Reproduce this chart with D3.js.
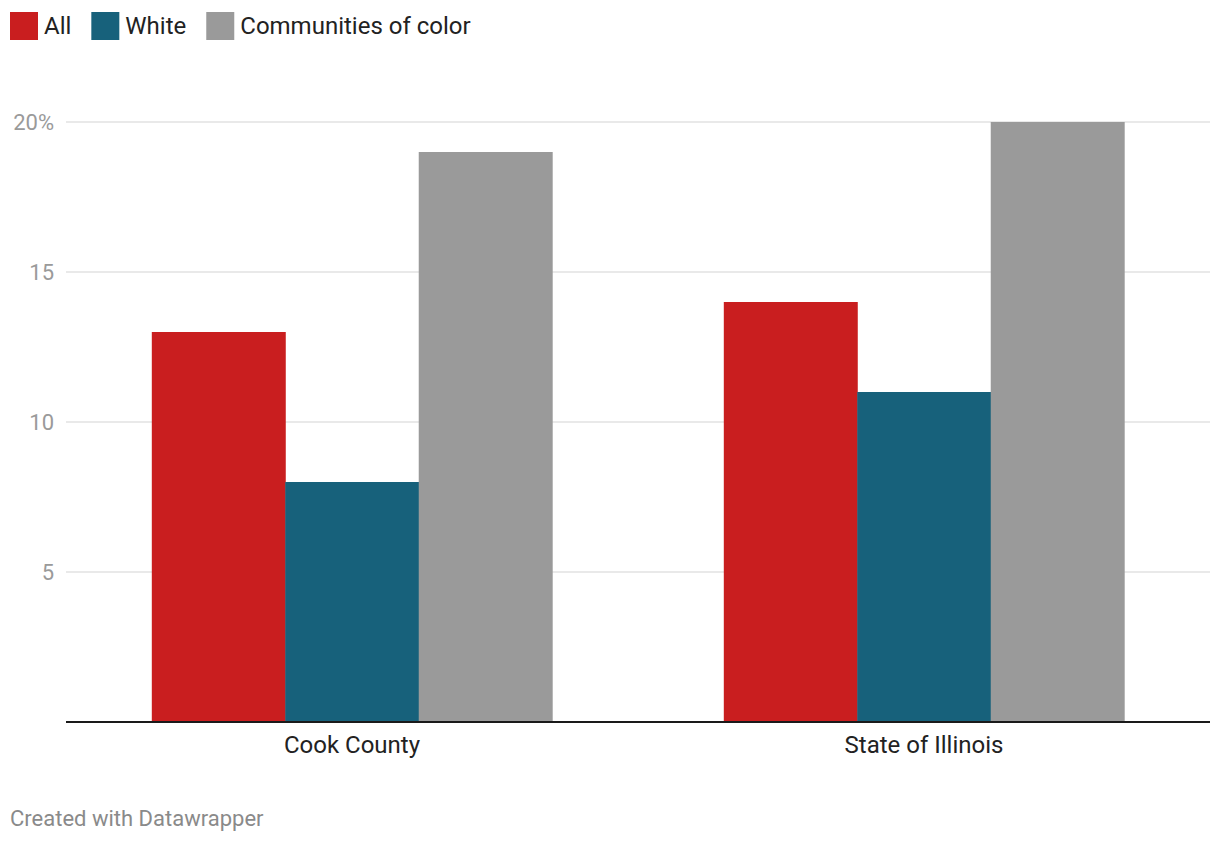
<!DOCTYPE html>
<html>
<head>
<meta charset="utf-8">
<script src="https://cdn.jsdelivr.net/npm/d3@7"></script>
<style>
  html, body { margin: 0; padding: 0; background: #fff; }
  svg { display: block; font-family: Roboto, "Noto Sans", sans-serif; }
</style>
</head>
<body>
<svg id="chart" width="1220" height="844"></svg>
<script>
const categories = ["Cook County", "State of Illinois"];
const seriesNames = ["All", "White", "Communities of color"];
const seriesColors = ["#c91e1f", "#17617b", "#9a9a9a"];
const allValues = [13, 14];
const whiteValues = [8, 11];
const cocValues = [19, 20];
const tickValues = [5, 10, 15, 20];
const seriesValues = [allValues, whiteValues, cocValues];

const svg = d3.select("#chart");
const margin = { left: 66, right: 10, top: 122, bottom: 722 };

const x0 = d3.scaleBand().domain(categories).range([margin.left, 1220 - margin.right])
  .paddingInner(0.3).paddingOuter(0.15);
const x1 = d3.scaleBand().domain(seriesNames).range([0, x0.bandwidth()]).padding(0);
const y = d3.scaleLinear().domain([0, 20]).range([margin.bottom, margin.top]);

// legend
let lx = 10;
const legend = svg.append("g");
seriesNames.forEach((name, i) => {
  legend.append("rect").attr("x", lx).attr("y", 12).attr("width", 28).attr("height", 28)
    .attr("fill", seriesColors[i]);
  const t = legend.append("text").attr("x", lx + 34).attr("y", 34).attr("font-size", 24)
    .attr("fill", "#222").text(name);
  lx += 34 + t.node().getComputedTextLength() + 20;
});

// grid + y labels
const yAxis = d3.axisLeft(y).tickValues(tickValues).tickSize(0)
  .tickFormat(d => d === 20 ? "20%" : d);
const gy = svg.append("g").attr("transform", `translate(${margin.left - 12},0)`).call(yAxis);
gy.select(".domain").remove();
gy.selectAll("text").attr("font-size", 22).attr("fill", "#9a9a9a")
  .attr("font-family", "Roboto, sans-serif").attr("dy", "0.32em").attr("x", 0);

svg.append("g").selectAll("line").data(tickValues).join("line")
  .attr("x1", margin.left).attr("x2", 1210)
  .attr("y1", d => y(d)).attr("y2", d => y(d))
  .attr("stroke", "#e2e2e2").attr("stroke-width", 1.5);

// bars
const groups = svg.append("g").selectAll("g").data(categories).join("g")
  .attr("transform", d => `translate(${x0(d)},0)`);
groups.selectAll("rect")
  .data((c, ci) => seriesNames.map((s, si) => ({ s, si, v: seriesValues[si][ci] })))
  .join("rect")
  .attr("x", d => x1(d.s))
  .attr("width", x1.bandwidth() + 0.5)
  .attr("y", d => y(d.v))
  .attr("height", d => y(0) - y(d.v))
  .attr("fill", d => seriesColors[d.si]);

// baseline + x labels
const xAxis = d3.axisBottom(x0).tickSize(0).tickPadding(14);
const gx = svg.append("g").attr("transform", `translate(0,${y(0)})`).call(xAxis);
gx.select(".domain").remove();
gx.selectAll("text").attr("font-size", 24).attr("fill", "#222")
  .attr("font-family", "Roboto, sans-serif");
svg.append("line").attr("x1", margin.left).attr("x2", 1210)
  .attr("y1", y(0)).attr("y2", y(0)).attr("stroke", "#1a1a1a").attr("stroke-width", 2);

// footer
svg.append("text").attr("x", 10).attr("y", 826).attr("font-size", 22)
  .attr("fill", "#8a8a8a").text("Created with Datawrapper");
</script>
</body>
</html>
